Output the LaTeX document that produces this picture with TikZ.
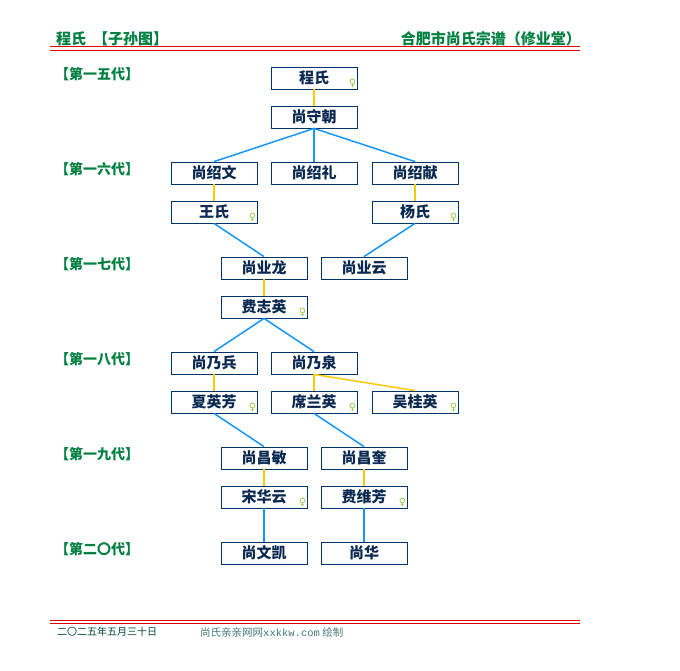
\documentclass[tikz,border=0pt]{standalone}
\usepackage{fontspec}
\setmainfont{Noto Sans CJK SC}
\setmonofont{Liberation Mono}
\newfontfamily\symfont{DejaVu Sans}
\definecolor{boxline}{RGB}{0,51,102}
\definecolor{nametext}{RGB}{10,40,80}
\definecolor{kin}{RGB}{20,150,250}
\definecolor{wed}{RGB}{255,200,0}
\definecolor{headgreen}{RGB}{0,128,64}
\definecolor{sexmark}{RGB}{140,200,60}
\definecolor{rule}{RGB}{230,0,0}
\definecolor{foot}{RGB}{0,70,50}
\definecolor{footsite}{RGB}{70,120,120}
\tikzset{
  pers/.style={draw=boxline, line width=0.8pt, minimum width=86pt, minimum height=22pt,
    inner sep=0pt, text=nametext, font=\fontsize{15}{15}\selectfont\bfseries},
  fem/.style={pers, label={[anchor=south east, inner sep=1pt, text=sexmark,
    font=\fontsize{10}{10}\selectfont\symfont]south east:♀}},
  gen/.style={anchor=west, inner sep=0pt, text=headgreen, font=\fontsize{14}{14}\selectfont\bfseries},
  head/.style={inner sep=0pt, text=headgreen, font=\fontsize{15}{15}\selectfont\bfseries},
  redline/.style={draw=rule, line width=1pt},
}
\begin{document}
\begin{tikzpicture}[x=1pt, y=-1pt]
      \useasboundingbox (0,0) rectangle (680,670);
      % title and rules
      \node[head, anchor=west] (lefthead) at (56,39) {程氏\ \ 【子孙图】};
      \node[head, anchor=east] (righthead) at (581,39) {合肥市尚氏宗谱（修业堂）};
      \draw[redline] (50,46.5) -- (580,46.5);
      \draw[redline] (50,50) -- (580,50);
      \draw[redline] (50,620.5) -- (580,620.5);
      \draw[redline] (50,623.5) -- (580,623.5);
      \node[anchor=west, inner sep=0pt, text=foot, font=\fontsize{10}{10}\selectfont] (date) at (57,632) {二〇二五年五月三十日};
      \node[anchor=west, inner sep=0pt, text=footsite, font=\fontsize{10.5}{10.5}\selectfont] (site) at (200,632) {尚氏亲亲网网{\ttfamily xxkkw.com} 绘制};
      % generations
      \draw
        (55,74) node[gen] (g15) {【第一五代】}
        (55,169) node[gen] (g16) {【第一六代】}
        (55,264) node[gen] (g17) {【第一七代】}
        (55,359) node[gen] (g18) {【第一八代】}
        (55,454) node[gen] (g19) {【第一九代】}
        (55,549) node[gen] (g20) {【第二〇代】};
      % people
      \draw
        (314,78) node[fem] (0) {程氏}
        (314,117) node[pers] (1) {尚守朝}
        (214,173) node[pers] (2) {尚绍文}
        (314,173) node[pers] (3) {尚绍礼}
        (415,173) node[pers] (4) {尚绍献}
        (214,212) node[fem] (5) {王氏}
        (415,212) node[fem] (6) {杨氏}
        (264,268) node[pers] (7) {尚业龙}
        (364,268) node[pers] (8) {尚业云}
        (264,307) node[fem] (9) {费志英}
        (214,363) node[pers] (10) {尚乃兵}
        (314,363) node[pers] (11) {尚乃泉}
        (214,402) node[fem] (12) {夏英芳}
        (314,402) node[fem] (13) {席兰英}
        (415,402) node[fem] (14) {吴桂英}
        (264,458) node[pers] (15) {尚昌敏}
        (364,458) node[pers] (16) {尚昌奎}
        (264,497) node[fem] (17) {宋华云}
        (364,497) node[fem] (18) {费维芳}
        (264,553) node[pers] (19) {尚文凯}
        (364,553) node[pers] (20) {尚华};
      \begin{scope}[draw=wed, line width=1.5pt]
        \draw (0.south) to (1.north);
        \draw (2.south) to (5.north);
        \draw (4.south) to (6.north);
        \draw (7.south) to (9.north);
        \draw (10.south) to (12.north);
        \draw (11.south) to (13.north);
        \draw (11.south) to (14.north);
        \draw (15.south) to (17.north);
        \draw (16.south) to (18.north);
      \end{scope}
      \begin{scope}[draw=kin, line width=1.5pt]
        \draw (1.south) to (2.north);
        \draw (1.south) to (3.north);
        \draw (1.south) to (4.north);
        \draw (5.south) to (7.north);
        \draw (6.south) to (8.north);
        \draw (9.south) to (10.north);
        \draw (9.south) to (11.north);
        \draw (12.south) to (15.north);
        \draw (13.south) to (16.north);
        \draw (17.south) to (19.north);
        \draw (18.south) to (20.north);
      \end{scope}
    \end{tikzpicture}
\end{document}
